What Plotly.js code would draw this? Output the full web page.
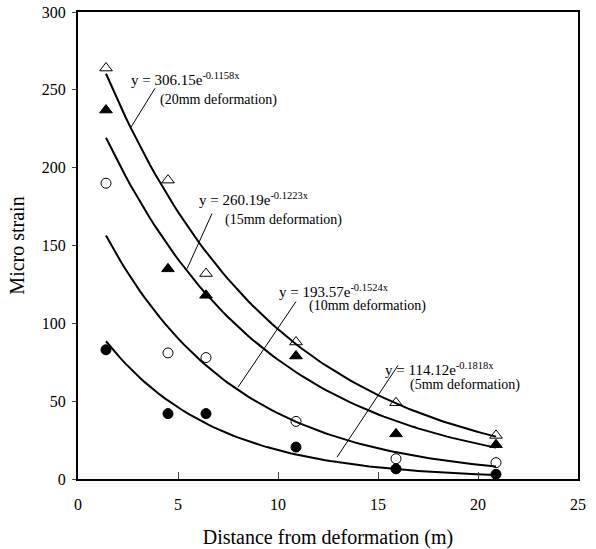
<!DOCTYPE html>
<html><head><meta charset="utf-8">
<script src="https://cdn.plot.ly/plotly-3.0.1.min.js"></script>
<style>html,body{margin:0;padding:0;background:#fff}#c{width:596px;height:549px}</style>
</head><body><div id="c"></div>
<script>
const distance = [1.4, 4.5, 6.4, 10.9, 15.9, 20.9];
const strain20 = [264, 192, 132, 88, 49, 28];
const strain15 = [237, 135, 118, 79, 29, 22];
const strain10 = [190, 81, 78, 37, 13, 10.5];
const strain5  = [83, 42, 42, 20.5, 6.5, 3];

// fitted exponential trend lines y = a*exp(-b x), as printed on the chart
const fitA = [306.15, 260.19, 193.57, 114.12];
const fitB = [0.1158, 0.1223, 0.1524, 0.1818];
const fitLabels = ['20mm deformation', '15mm deformation', '10mm deformation', '5mm deformation'];
const fitRange = [1.4, 20.9];

// label placement (data coords): equation, description, leader line
const eqPos   = [[2.55, 257], [5.95, 180], [9.95, 121], [15.25, 70.5]];
const descPos = [[4.0, 243.5], [7.25, 166.5], [11.45, 111], [16.5, 60.3]];
const leaders = [[[2.65, 226], [3.85, 251]], [[5.45, 135], [6.7, 170.5]], [[8.0, 59], [10.9, 114]], [[12.95, 14], [16.0, 73]]];

const FONT = '"Liberation Serif", "Times New Roman", serif';
const traces = [];

fitA.forEach((a, i) => {
  const xs = [], ys = [];
  const n = 80;
  for (let k = 0; k <= n; k++) {
    const x = fitRange[0] + (fitRange[1] - fitRange[0]) * k / n;
    xs.push(x); ys.push(a * Math.exp(-fitB[i] * x));
  }
  traces.push({x: xs, y: ys, mode: 'lines', line: {color: '#000', width: 2}, hoverinfo: 'skip', showlegend: false});
});

const series = [
  {y: strain20, symbol: 'triangle-up-open', size: 11},
  {y: strain15, symbol: 'triangle-up', size: 11},
  {y: strain10, symbol: 'circle-open', size: 10},
  {y: strain5,  symbol: 'circle', size: 10}
];
series.forEach(s => traces.push({
  x: distance, y: s.y, mode: 'markers', showlegend: false,
  marker: {symbol: s.symbol, size: s.size, color: '#000', line: {color: '#000', width: 1}}
}));

const annotations = [], shapes = [];
fitA.forEach((a, i) => {
  annotations.push({x: eqPos[i][0], y: eqPos[i][1], xref: 'x', yref: 'y', xanchor: 'left', yanchor: 'middle',
    showarrow: false, text: 'y = ' + a.toFixed(2) + 'e<sup>-' + fitB[i].toFixed(4) + 'x</sup>',
    font: {family: FONT, size: 15, color: '#000'}});
  annotations.push({x: descPos[i][0], y: descPos[i][1], xref: 'x', yref: 'y', xanchor: 'left', yanchor: 'middle',
    showarrow: false, text: '(' + fitLabels[i] + ')', font: {family: FONT, size: 14, color: '#000'}});
  shapes.push({type: 'line', xref: 'x', yref: 'y', x0: leaders[i][0][0], y0: leaders[i][0][1],
    x1: leaders[i][1][0], y1: leaders[i][1][1], line: {color: '#000', width: 1}});
});

const layout = {
  width: 596, height: 549,
  margin: {l: 78, r: 18, t: 12, b: 70},
  paper_bgcolor: '#fff', plot_bgcolor: '#fff',
  font: {family: FONT, color: '#000', size: 16},
  showlegend: false,
  xaxis: {range: [0, 25], tickvals: [0, 5, 10, 15, 20, 25], ticks: 'inside', ticklen: 7, tickwidth: 1,
    showline: true, linewidth: 2, linecolor: '#000', mirror: true, showgrid: false, zeroline: false,
    tickfont: {family: FONT, size: 16}, ticklabelstandoff: 10,
    title: {text: 'Distance from deformation (m)', font: {family: FONT, size: 20}, standoff: 18}},
  yaxis: {range: [0, 300], tickvals: [0, 50, 100, 150, 200, 250, 300], ticks: 'outside', ticklen: 4, tickwidth: 1,
    showline: true, linewidth: 2, linecolor: '#000', mirror: true, showgrid: false, zeroline: false,
    tickfont: {family: FONT, size: 16}, ticklabelstandoff: 3,
    title: {text: 'Micro strain', font: {family: FONT, size: 20}, standoff: 12}},
  annotations: annotations, shapes: shapes
};

Plotly.newPlot('c', traces, layout, {displayModeBar: false, staticPlot: true});
</script></body></html>
